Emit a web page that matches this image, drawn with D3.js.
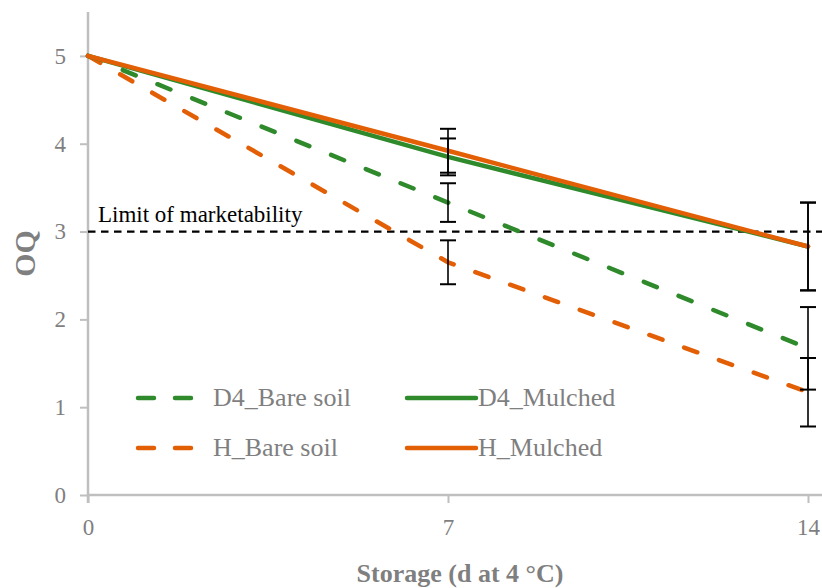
<!DOCTYPE html>
<html><head><meta charset="utf-8">
<script src="https://cdn.jsdelivr.net/npm/d3@7"></script>
<style>body{margin:0;background:#fff}svg{display:block}</style>
</head><body>
<svg id="c" width="822" height="588"></svg>
<script>
const days = [0, 7, 14];
const xTicks = [0, 7, 14];
const yTicks = [0, 1, 2, 3, 4, 5];
const d4Bare = [5, 3.33, 1.67];
const d4BareErr = [0, 0.22, 0.47];
const hBare = [5, 2.65, 1.17];
const hBareErr = [0, 0.25, 0.39];
const d4Mulched = [5, 3.85, 2.83];
const d4MulchedErr = [0, 0.21, 0.5];
const hMulched = [5, 3.92, 2.83];
const hMulchedErr = [0, 0.25, 0.5];
const limitValue = 3;
const limitLabel = "Limit of marketability";
const seriesNames = ["D4_Bare soil", "D4_Mulched", "H_Bare soil", "H_Mulched"];
const xTitle = "Storage (d at 4 °C)";
const yTitle = "OQ";

const GREEN = "#2f8a2b", ORANGE = "#e35f06", AXIS = "#bfbfbf", TXT = "#7f7f7f";
const FONT = "'Liberation Serif', serif";
const svg = d3.select("#c");
const x = d3.scaleLinear().domain([0, 14]).range([88, 808]);
const y = d3.scaleLinear().domain([0, 5.5]).range([495, 12]);

const series = [
  {name: seriesNames[0], vals: d4Bare, err: d4BareErr, color: GREEN, dash: "14,23.5"},
  {name: seriesNames[2], vals: hBare, err: hBareErr, color: ORANGE, dash: "14,23"},
  {name: seriesNames[1], vals: d4Mulched, err: d4MulchedErr, color: GREEN, dash: null},
  {name: seriesNames[3], vals: hMulched, err: hMulchedErr, color: ORANGE, dash: null}
];

// axes
const yAxis = svg.append("g").attr("transform", `translate(${x(0)},0)`)
  .call(d3.axisLeft(y).tickValues(yTicks).tickSize(8).tickPadding(14).tickFormat(d3.format("d")));
yAxis.select(".domain").attr("d", `M0,${y(5.5)}V${y(0) + 8}`);
const xAxis = svg.append("g").attr("transform", `translate(0,${y(0)})`)
  .call(d3.axisBottom(x).tickValues(xTicks).tickSize(8).tickPadding(16).tickFormat(d3.format("d")));
xAxis.select(".domain").attr("d", `M${x(0)},0H822`);
svg.selectAll(".domain").attr("stroke", AXIS).attr("stroke-width", 2.5);
svg.selectAll(".tick line").attr("stroke", AXIS).attr("stroke-width", 2);
svg.selectAll(".tick text").attr("fill", TXT).style("font-family", FONT).style("font-size", "23px");

// limit line
svg.append("line").attr("x1", x(0)).attr("x2", 822).attr("y1", y(limitValue)).attr("y2", y(limitValue))
  .attr("stroke", "#000").attr("stroke-width", 2.3).attr("stroke-dasharray", "7.5,5.5");
svg.append("text").attr("x", 98).attr("y", y(limitValue) - 10).text(limitLabel)
  .style("font-family", FONT).style("font-size", "23px").attr("fill", "#000");

// lines
const line = d3.line().x((d, i) => x(days[i])).y(d => y(d));
series.forEach(s => {
  svg.append("path").attr("d", line(s.vals)).attr("fill", "none")
    .attr("stroke", s.color).attr("stroke-width", 4.5)
    .attr("stroke-linecap", "round").attr("stroke-linejoin", "round")
    .attr("stroke-dasharray", s.dash);
});

// error bars
series.forEach(s => {
  s.vals.forEach((v, i) => {
    if (!s.err[i]) return;
    const cx = x(days[i]), y1 = y(v + s.err[i]), y2 = y(v - s.err[i]);
    const g = svg.append("g").attr("stroke", "#000");
    g.append("line").attr("x1", cx).attr("x2", cx).attr("y1", y1).attr("y2", y2).attr("stroke-width", 1.6);
    g.append("line").attr("x1", cx - 8).attr("x2", cx + 8).attr("y1", y1).attr("y2", y1).attr("stroke-width", 2);
    g.append("line").attr("x1", cx - 8).attr("x2", cx + 8).attr("y1", y2).attr("y2", y2).attr("stroke-width", 2);
  });
});

// legend
const legendItems = [
  {s: series[0], tx: 213, ly: 398},
  {s: series[2], tx: 478, ly: 398},
  {s: series[1], tx: 213, ly: 448},
  {s: series[3], tx: 478, ly: 448}
];
legendItems.forEach(it => {
  const dashed = !!it.s.dash;
  svg.append("line").attr("x1", dashed ? 138 : 407).attr("x2", dashed ? 195 : 476)
    .attr("y1", it.ly).attr("y2", it.ly)
    .attr("stroke", it.s.color).attr("stroke-width", 4.5).attr("stroke-linecap", "round")
    .attr("stroke-dasharray", dashed ? "16,21" : null);
  svg.append("text").attr("x", it.tx).attr("y", it.ly + 8).text(it.s.name)
    .style("font-family", FONT).style("font-size", "26px").attr("fill", TXT);
});

// titles
svg.append("text").attr("x", 460).attr("y", 582).attr("text-anchor", "middle").text(xTitle)
  .style("font-family", FONT).style("font-size", "26px").style("font-weight", "bold").attr("fill", TXT);
svg.append("text").attr("transform", `translate(35,${(y(0) + y(5.5)) / 2}) rotate(-90)`)
  .attr("text-anchor", "middle").text(yTitle)
  .style("font-family", FONT).style("font-size", "30px").style("font-weight", "bold").attr("fill", TXT);
</script>
</body></html>
